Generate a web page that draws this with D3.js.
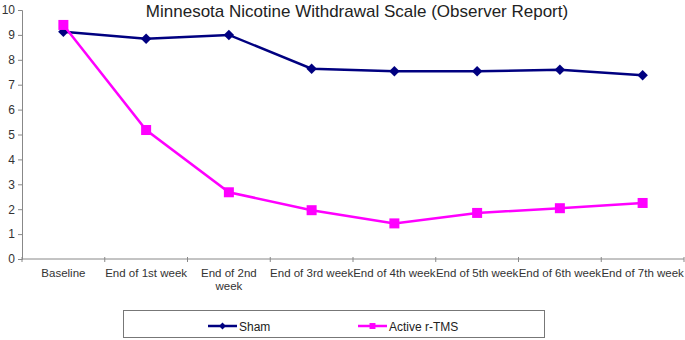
<!DOCTYPE html>
<html>
<head>
<meta charset="utf-8">
<title>Minnesota Nicotine Withdrawal Scale</title>
<script src="https://d3js.org/d3.v7.min.js"></script>
<style>
  body { margin: 0; background: #fff; }
  text { font-family: "Liberation Sans", Arial, sans-serif; }
</style>
</head>
<body>
<script>
// data
const categories = ['Baseline', 'End of 1st week', 'End of 2nd\nweek', 'End of 3rd week',
                    'End of 4th week', 'End of 5th week', 'End of 6th week', 'End of 7th week'];
const sham   = [9.13, 8.85, 9.0, 7.64, 7.54, 7.54, 7.6, 7.38];
const active = [9.4, 5.18, 2.68, 1.96, 1.43, 1.85, 2.04, 2.25];
const yTicks = [0, 1, 2, 3, 4, 5, 6, 7, 8, 9, 10];

const width = 685, height = 340;
const svg = d3.select('body').append('svg')
    .attr('width', width)
    .attr('height', height);

// plot area
const plotL = 22, plotR = 684, plotT = 10, plotB = 259;

const x = d3.scaleBand().domain(d3.range(categories.length)).range([plotL, plotR]);
const y = d3.scaleLinear().domain([0, 10]).range([plotB, plotT]);
const cx = i => x(i) + x.bandwidth() / 2;

// title
svg.append('text')
    .attr('x', 357).attr('y', 17)
    .attr('text-anchor', 'middle')
    .attr('font-size', 17)
    .attr('fill', '#222')
    .text('Minnesota Nicotine Withdrawal Scale (Observer Report)');

// y axis
const yAxis = svg.append('g')
    .attr('transform', 'translate(' + plotL + ',0)')
    .call(d3.axisLeft(y).tickValues(yTicks).tickSize(4).tickFormat(d3.format('d')));
yAxis.select('.domain').attr('stroke', '#888');
yAxis.selectAll('.tick line').attr('stroke', '#888');
yAxis.selectAll('.tick text')
    .attr('font-size', 12).attr('fill', '#333').attr('x', -7)
    .style('font-family', '"Liberation Sans", Arial, sans-serif');

// x axis, ticks at band edges
const xAxis = svg.append('g').attr('transform', 'translate(0,' + plotB + ')');
xAxis.append('line')
    .attr('x1', plotL).attr('x2', plotR)
    .attr('stroke', '#888');
xAxis.selectAll('.xt')
    .data(d3.range(categories.length + 1))
    .enter().append('line')
    .attr('x1', i => plotL + i * x.step()).attr('x2', i => plotL + i * x.step())
    .attr('y1', -2).attr('y2', 3)
    .attr('stroke', '#888');
const labels = xAxis.selectAll('.xl')
    .data(categories)
    .enter().append('text')
    .attr('text-anchor', 'middle')
    .attr('font-size', 11.5)
    .attr('fill', '#333');
labels.each(function(d, i) {
    d3.select(this).selectAll('tspan')
        .data(d.split('\n'))
        .enter().append('tspan')
        .attr('x', cx(i))
        .attr('y', (t, j) => 18 + j * 13)
        .text(t => t);
});

// lines
const line = d3.line().x((d, i) => cx(i)).y(d => y(d));

svg.append('path')
    .datum(sham)
    .attr('d', line)
    .attr('fill', 'none')
    .attr('stroke', '#000080')
    .attr('stroke-width', 2.5);
svg.selectAll('.sham')
    .data(sham)
    .enter().append('path')
    .attr('d', d3.symbol().type(d3.symbolDiamond2).size(70))
    .attr('transform', (d, i) => 'translate(' + cx(i) + ',' + y(d) + ')')
    .attr('fill', '#000080');

svg.append('path')
    .datum(active)
    .attr('d', line)
    .attr('fill', 'none')
    .attr('stroke', '#FF00FF')
    .attr('stroke-width', 2.5);
svg.selectAll('.act')
    .data(active)
    .enter().append('rect')
    .attr('x', (d, i) => cx(i) - 5)
    .attr('y', d => y(d) - 5)
    .attr('width', 10).attr('height', 10)
    .attr('fill', '#FF00FF');

// legend
svg.append('rect')
    .attr('x', 123.5).attr('y', 310.5)
    .attr('width', 421).attr('height', 27)
    .attr('fill', 'none')
    .attr('stroke', '#777');

const legend = [
    { name: 'Sham', color: '#000080', x: 208, shape: 'diamond' },
    { name: 'Active r-TMS', color: '#FF00FF', x: 358, shape: 'square' }
];
const lg = svg.selectAll('.lg')
    .data(legend)
    .enter().append('g')
    .attr('transform', d => 'translate(' + d.x + ',326)');
lg.append('line')
    .attr('x1', 0).attr('x2', 29)
    .attr('stroke', d => d.color)
    .attr('stroke-width', 2.5);
lg.append('path')
    .attr('d', d => d3.symbol().type(d.shape === 'diamond' ? d3.symbolDiamond2 : d3.symbolSquare2)
        .size(d.shape === 'diamond' ? 30 : 45)())
    .attr('transform', 'translate(14.5,0)')
    .attr('fill', d => d.color);
lg.append('text')
    .attr('x', 31).attr('y', 4.5)
    .attr('font-size', 12)
    .attr('fill', '#222')
    .text(d => d.name);
</script>
</body>
</html>
